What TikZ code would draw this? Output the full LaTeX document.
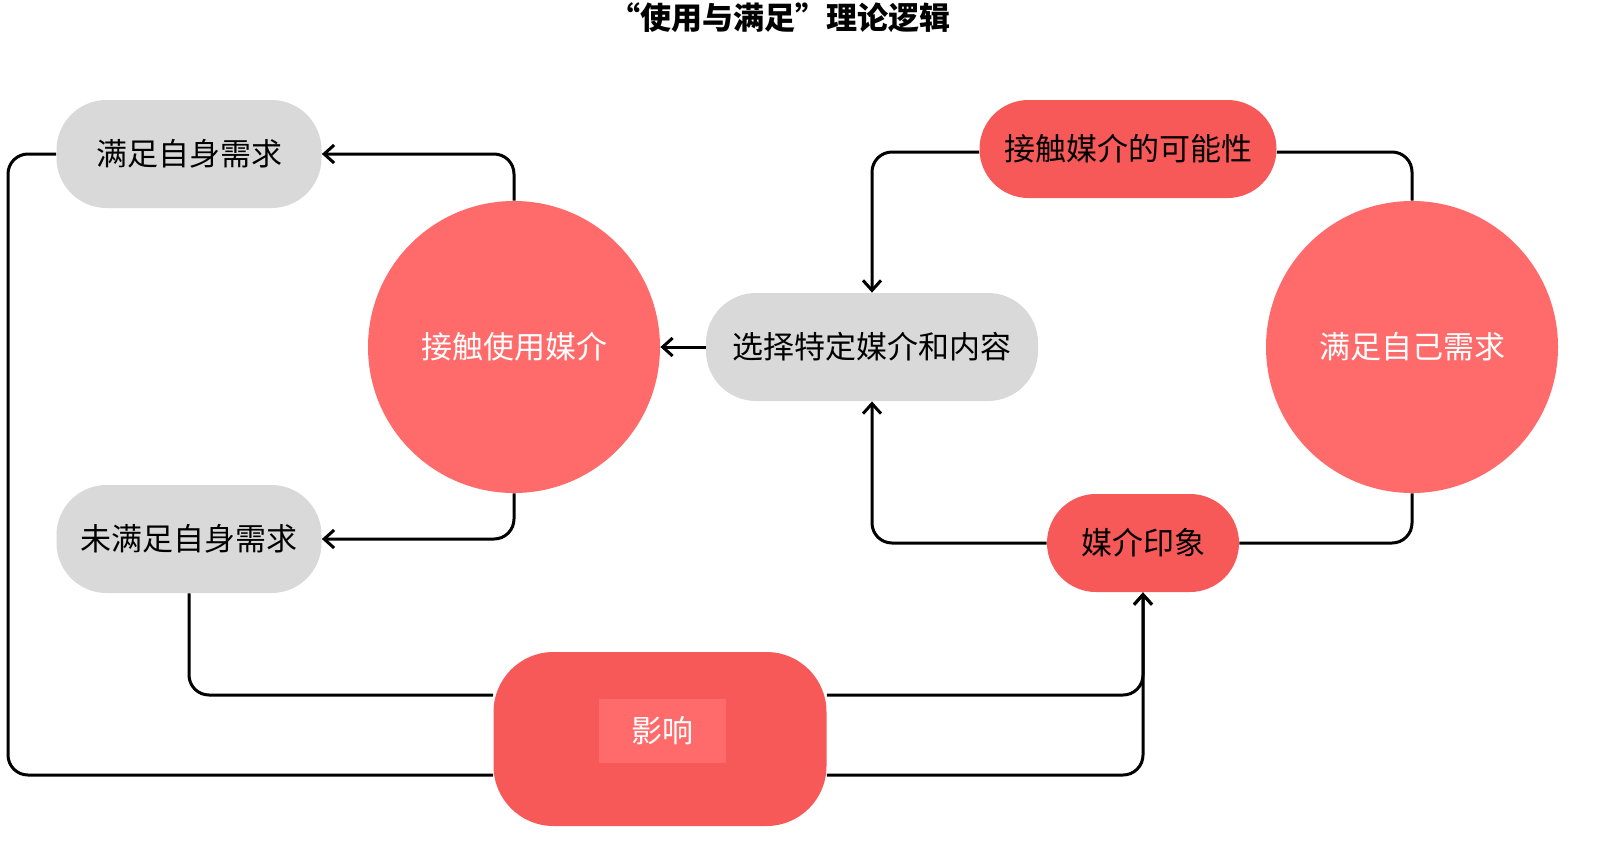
\documentclass[tikz,border=0pt]{standalone}
\usepackage{fontspec}
\newfontfamily\cjk{Noto Sans CJK SC}
\usetikzlibrary{arrows.meta,shapes.misc}
\definecolor{boxgray}{HTML}{D9D9D9}
\definecolor{lightred}{HTML}{FF6B6B}
\definecolor{darkred}{HTML}{F75858}
\begin{document}
\begin{tikzpicture}[x=0.5pt,y=-0.5pt,
  every node/.style={font=\cjk\fontsize{15.5}{18}\selectfont, inner sep=0pt},
  graybox/.style={fill=boxgray, rounded corners=25pt, minimum width=132.5pt, minimum height=54pt},
  pill/.style={fill=darkred, rounded rectangle, minimum height=49pt},
  bigcirc/.style={circle, fill=lightred, minimum size=146pt, text=white},
  conn/.style={line width=1.5pt, rounded corners=10pt},
  arr/.style={conn, -{Straight Barb[length=5pt,width=9pt,line width=1.5pt]}}
]
\useasboundingbox (0,0) rectangle (1600,851);
\fill[white] (0,0) rectangle (1600,851);

\node[font=\cjk\bfseries\fontsize{15.5}{18}\selectfont] (title) at (780,18) {“使用与满足”理论逻辑};

\node[graybox] (s1) at (189,154) {满足自身需求};
\node[graybox] (s2) at (189,539) {未满足自身需求};
\node[bigcirc] (c1) at (514,347) {接触使用媒介};
\node[graybox, minimum width=166pt] (xz) at (872,347) {选择特定媒介和内容};
\node[pill, minimum width=148.5pt] (kc) at (1128,149) {接触媒介的可能性};
\node[bigcirc] (c2) at (1412,347) {满足自己需求};
\node[pill, minimum width=96pt] (mi) at (1143,543) {媒介印象};
\node[fill=darkred, rounded corners=30pt, minimum width=166.5pt, minimum height=87pt] (yx) at (660,739) {};
\node[fill=lightred, minimum width=63.5pt, minimum height=32pt, text=white] (yxl) at (662,731) {影响};

\draw[arr] (c1.north) |- (s1.east);
\draw[arr] (c1.south) |- (s2.east);
\draw[arr] (xz.west) -- (c1.east);
\draw[arr] ([yshift=-1.5pt]kc.west) -| (xz.north);
\draw[conn] ([yshift=-1.5pt]kc.east) -| (c2.north);
\draw[conn] (c2.south) |- (mi.east);
\draw[arr] (mi.west) -| (xz.south);
\coordinate (Lb) at (8,775);
\draw[conn] (s1.west) -| (Lb) -- ([yshift=-18pt]yx.west);
\draw[conn] (s2.south) |- ([yshift=22pt]yx.west);
\draw[arr] ([yshift=22pt]yx.east) -| (mi.south);
\draw[arr] ([yshift=-18pt]yx.east) -| (mi.south);
\end{tikzpicture}
\end{document}
